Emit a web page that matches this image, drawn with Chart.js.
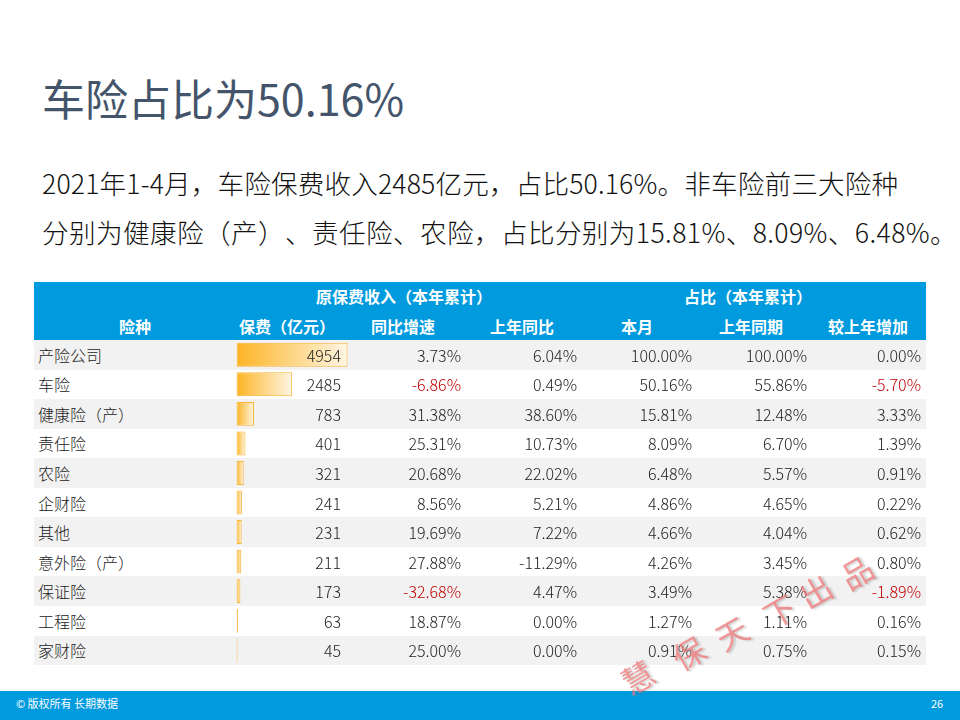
<!DOCTYPE html>
<html><head><meta charset="utf-8">
<script src="https://cdn.jsdelivr.net/npm/chart.js@4.4.1/dist/chart.umd.min.js"></script>
<style>
html,body{margin:0;padding:0;background:#fff;}
body{width:960px;height:720px;position:relative;overflow:hidden;font-family:"Noto Sans CJK SC","Noto Sans",sans-serif;text-spacing-trim:space-all;}
.abs{position:absolute;white-space:nowrap;}
#title{left:42px;top:68px;font-size:43px;line-height:58px;color:#44546A;}
.para{left:42px;font-size:26.6px;color:#111;font-weight:300;line-height:36px;}
#hdr{left:34px;top:282px;width:892px;height:58px;background:#009ADE;}
.h{color:#fff;font-weight:bold;font-size:16px;line-height:20px;transform:translateX(-50%);}
.row{left:34px;width:892px;}
.cell{font-size:16px;color:#222;font-weight:300;line-height:20px;}
.r{transform:translateX(-100%);}
.neg{color:#C00000;}
#foot{left:0;top:691px;width:960px;height:29px;background:#009ADE;}
.ft{color:#fff;font-size:11px;line-height:14px;}
.wm{color:rgba(242,120,120,0.75);font-size:32px;line-height:32px;transform:translate(-50%,-50%) rotate(-30deg);text-shadow:2px 2px 2px rgba(120,120,120,0.35);}
#barbox{left:236px;top:340px;width:112px;height:325px;}
</style></head>
<body>
<div id="title" class="abs">车险占比为50.16%</div>
<div class="abs para" style="top:165px;letter-spacing:0.15px">2021年1-4月，车险保费收入2485亿元，占比50.16%。非车险前三大险种</div>
<div class="abs para" style="top:214px;letter-spacing:0.4px">分别为健康险（产）、责任险、农险，占比分别为15.81%、8.09%、6.48%。</div>

<div id="hdr" class="abs"></div>
<div id="table"></div>
<div id="barbox" class="abs"><canvas id="c"></canvas></div>

<div id="foot" class="abs"></div>
<div class="abs ft" style="left:16px;top:696px">© 版权所有 长期数据</div>
<div class="abs ft" style="left:931px;top:696px">26</div>
<div id="wmark"></div>

<script>
// ---- data ----
const categories = ["产险公司","车险","健康险（产）","责任险","农险","企财险","其他","意外险（产）","保证险","工程险","家财险"];
const premium = [4954,2485,783,401,321,241,231,211,173,63,45];
const yoyGrowth = [3.73,-6.86,31.38,25.31,20.68,8.56,19.69,27.88,-32.68,18.87,25.00];
const lastYearGrowth = [6.04,0.49,38.60,10.73,22.02,5.21,7.22,-11.29,4.47,0.00,0.00];
const shareThisMonth = [100.00,50.16,15.81,8.09,6.48,4.86,4.66,4.26,3.49,1.27,0.91];
const shareLastYear = [100.00,55.86,12.48,6.70,5.57,4.65,4.04,3.45,5.38,1.11,0.75];
const shareChange = [0.00,-5.70,3.33,1.39,0.91,0.22,0.62,0.80,-1.89,0.16,0.15];
const headerGroups = ["原保费收入（本年累计）","占比（本年累计）"];
const headers = ["险种","保费（亿元）","同比增速","上年同比","本月","上年同期","较上年增加"];
const watermark = "慧保天下出品";

// ---- layout ----
const T = document.getElementById('table');
function add(html, cls, style){const d=document.createElement('div');d.className='abs '+cls;d.style.cssText=style;d.textContent=html;T.appendChild(d);return d;}
add(headerGroups[0],'h','left:404px;top:286px');
add(headerGroups[1],'h','left:748px;top:286px');
const hx=[135,287,403,522,637,751,868];
headers.forEach((h,i)=>add(h,'h','left:'+hx[i]+'px;top:316px'));
const rowH=29.55, top0=340;
const rx=[341,461,577,692,807,921];
const pct=v=>v.toFixed(2)+'%';
categories.forEach((c,i)=>{
  const y=top0+i*rowH;
  add('','row','top:'+y+'px;height:'+rowH+'px;background:'+(i%2===0?'#F2F2F2':'#FFFFFF'));
  const ty=y+rowH/2-10;
  add(c,'cell','left:38px;top:'+ty+'px');
  const vals=[String(premium[i]),pct(yoyGrowth[i]),pct(lastYearGrowth[i]),pct(shareThisMonth[i]),pct(shareLastYear[i]),pct(shareChange[i])];
  const raw=[premium[i],yoyGrowth[i],lastYearGrowth[i],shareThisMonth[i],shareLastYear[i],shareChange[i]];
  vals.forEach((v,k)=>{
    const neg = (k===1||k===5) && raw[k]<0;
    add(v,'cell r'+(neg?' neg':''),'left:'+rx[k]+'px;top:'+ty+'px;z-index:2');
  });
});
// watermark
const W=document.getElementById('wmark');
const wpos=[[637,676],[688,652],[731,632],[779,610],[815,590],[856,571]];
[...watermark].forEach((ch,i)=>{const d=document.createElement('div');d.className='abs wm';d.style.left=wpos[i][0]+'px';d.style.top=wpos[i][1]+'px';d.style.zIndex=5;d.textContent=ch;W.appendChild(d);});

// ---- chart (data bars) ----
const maxV=Math.max(...premium);
new Chart(document.getElementById('c'),{
  type:'bar',
  data:{labels:categories,datasets:[{
    data:premium,
    barPercentage:0.81,categoryPercentage:1,
    borderWidth:1,borderColor:'#F9B233',borderSkipped:false,
    backgroundColor:(ctx)=>{
      const ch=ctx.chart; if(!ch.chartArea||!ch.scales.x) return '#FDB827';
      const xs=ch.scales.x; const x0=xs.getPixelForValue(0), x1=xs.getPixelForValue(ctx.raw);
      if(x1-x0<2) return '#FDB827';
      const g=ch.ctx.createLinearGradient(x0,0,x1,0);
      g.addColorStop(0,'#FDB424');g.addColorStop(1,'#FFF6E4');return g;
    }
  }]},
  options:{indexAxis:'y',responsive:true,maintainAspectRatio:false,animation:false,
    layout:{padding:{left:0.5,right:0,top:0,bottom:0}},
    plugins:{legend:{display:false},tooltip:{enabled:false}},
    scales:{x:{display:false,min:0,max:maxV*111.5/111},y:{display:false}}}
});
</script>
</body></html>
